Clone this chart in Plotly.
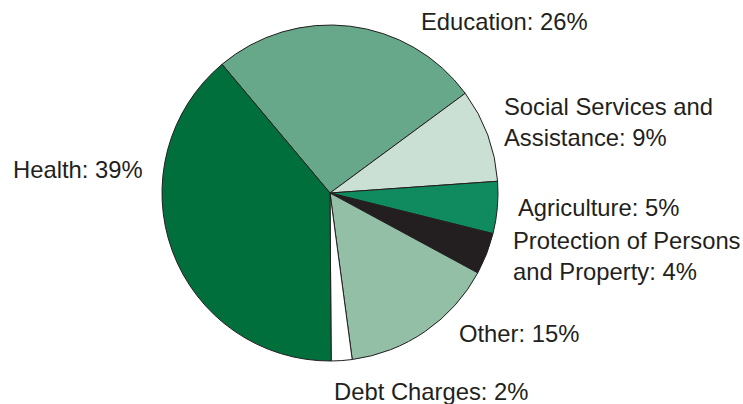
import plotly.graph_objects as go

categories = ["Education", "Social Services and Assistance", "Agriculture",
              "Protection of Persons and Property", "Other", "Debt Charges", "Health"]
values = [26, 9, 5, 4, 15, 2, 39]
colors = ["#67a88a", "#cbe0d4", "#108a5f", "#231f20", "#93bfa6", "#ffffff", "#006f3c"]
label_texts = ["Education: 26%", "Social Services and<br>Assistance: 9%", "Agriculture: 5%",
               "Protection of Persons<br>and Property: 4%", "Other: 15%", "Debt Charges: 2%",
               "Health: 39%"]
# label anchor positions in pixels (left x, centre y)
label_px = [(419, 21), (502, 122), (516, 207), (511, 256), (457, 333), (332, 391), (11, 170)]

W, H = 743, 404
fig = go.Figure()
fig.add_trace(go.Pie(
    labels=categories, values=values, sort=False, direction="clockwise",
    rotation=-40, textinfo="none", hoverinfo="label+percent",
    marker=dict(colors=colors, line=dict(color="#231f20", width=1)),
    domain=dict(x=[162 / W, 498 / W], y=[1 - 361 / H, 1 - 25 / H]),
    showlegend=False,
))
for txt, (px, py) in zip(label_texts, label_px):
    fig.add_annotation(text=txt, x=px / W, y=1 - py / H, xref="paper", yref="paper",
                       xanchor="left", yanchor="middle", align="left", showarrow=False,
                       font=dict(family="Liberation Sans, Arial, sans-serif", size=23.8, color="#231f20"))
fig.update_layout(width=W, height=H, margin=dict(l=0, r=0, t=0, b=0),
                  paper_bgcolor="white", plot_bgcolor="white")
fig.write_html("out.html")
